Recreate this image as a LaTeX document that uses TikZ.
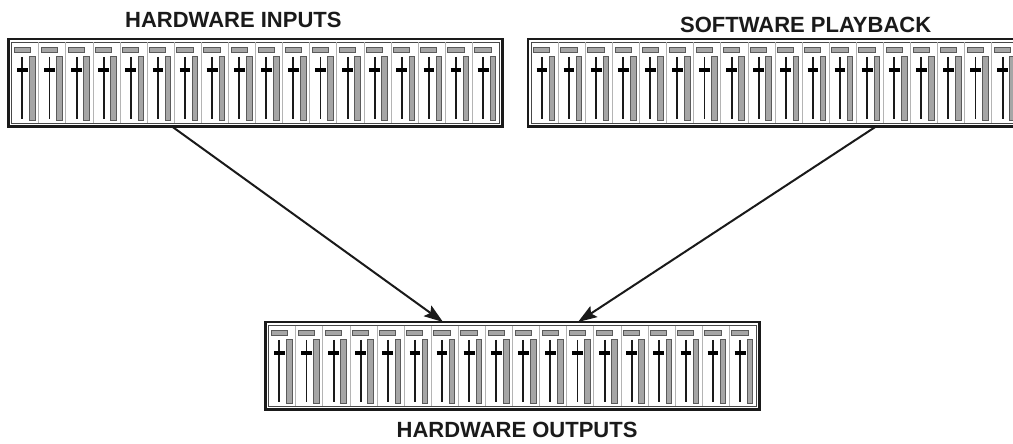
\documentclass[tikz,border=0pt]{standalone}
\usepackage{fontspec}
\setmainfont{Liberation Sans}
\usetikzlibrary{calc,arrows.meta}
\definecolor{ink}{HTML}{1A1A1A}
\definecolor{ledfill}{HTML}{A6A6A6}
\definecolor{ledline}{HTML}{5A5A5A}
\definecolor{sepline}{HTML}{B4B4B4}
\tikzset{
  panel/.style={draw=ink, line width=2.4pt, rectangle, anchor=north west,
    minimum width=494pt, minimum height=87.5pt, inner sep=0pt, outer sep=0pt},
  innerbox/.style={draw=ink!80, line width=0.7pt},
  sepl/.style={draw=sepline, line width=1pt},
  led/.style={fill=ledfill, draw=ledline, line width=0.8pt},
  meter/.style={fill=ledfill, draw=ledline, line width=0.8pt},
  fader/.style={draw=ink, line width=1.9pt},
  knob/.style={draw=black, line width=3.4pt},
  title/.style={font=\bfseries\fontsize{22pt}{22pt}\selectfont, text=ink,
    inner sep=0pt, anchor=base west},
  arr/.style={draw=ink, line width=2pt, -{Stealth[length=19pt,width=13pt,inset=3.5pt]}}
}
\newcommand\mixstrips[2]{%
  \draw[innerbox] (#1+3,#2+3) rectangle (#1+491,#2+84.5);
  \foreach \k in {0,...,16}{
    \draw[sepl] ({#1+30.3+27.1*\k},#2+3.5) -- ({#1+30.3+27.1*\k},#2+84);
  }
  \foreach \i in {0,...,17}{
    \pgfmathsetmacro\R{#1+30.3+27.1*\i}
    \draw[led] (\R-24.7,#2+8.2) rectangle (\R-8.5,#2+13.5);
    \draw[meter] (\R-9.3,#2+17) rectangle (\R-3.7,#2+81);
    \draw[fader] (\R-16.4,#2+17.8) -- (\R-16.4,#2+80.2);
    \draw[knob] (\R-21.8,#2+31) -- (\R-11,#2+31);
  }
}
\begin{document}
\begin{tikzpicture}[x=1pt,y=-1pt]
\useasboundingbox (0,0) rectangle (1013,444);
\clip (0,0) rectangle (1013,444);
\fill[white] (0,0) rectangle (1013,444);
% panels
\node[panel] (hwin) at (8.5,39) {};
\node[panel] (swpb) at (528,39) {};
\node[panel] (hwout) at (265.5,322) {};
\mixstrips{8.5}{39}
\mixstrips{528}{39}
\mixstrips{265.5}{322}
% titles
\node[title] (thwin) at (125,28) {HARDWARE INPUTS};
\node[title] (tswpb) at (680,33) {SOFTWARE PLAYBACK};
\node[title] (thwout) at (396.5,437.5) {HARDWARE OUTPUTS};
% connectors
\coordinate (a1) at ($(hwin.south west)+(163.5,0)$);
\coordinate (b1) at ($(hwout.north west)+(177.5,0)$);
\coordinate (a2) at ($(swpb.south west)+(348,0)$);
\coordinate (b2) at ($(hwout.north west)+(312.5,0)$);
\draw[arr] (a1) -- (b1);
\draw[arr] (a2) -- (b2);
\end{tikzpicture}
\end{document}
